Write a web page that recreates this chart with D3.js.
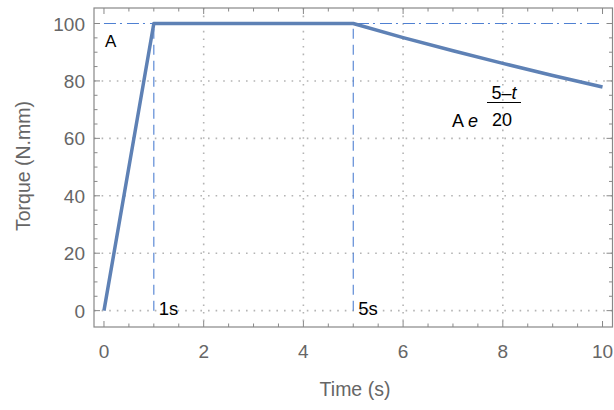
<!DOCTYPE html>
<html><head><meta charset="utf-8">
<script src="https://cdn.jsdelivr.net/npm/d3@7"></script>
<style>
body{margin:0;background:#fff;}
svg{display:block;font-family:"Liberation Sans",Arial,sans-serif;}
</style></head>
<body>
<svg id="c" width="614" height="410"></svg>
<script>
// Data
const timeValues = [0, 1, 5, 6, 7, 8, 9, 10];
const torqueValues = [0, 100, 100, 95.1, 90.5, 86.1, 81.9, 77.9];
const xTicks = [0, 2, 4, 6, 8, 10];
const yTicks = [0, 20, 40, 60, 80, 100];
const markerTimes = [1, 5];
const markerLabels = ["1s", "5s"];
const levelA = 100;

const svg = d3.select("#c");
const L = 94, R = 612.5, T = 8, B = 327;
const x = d3.scaleLinear().domain([-0.2, 10.2]).range([L, R]);
const y = d3.scaleLinear().domain([-5.7, 105.4]).range([B, T]);

const gridColor = "#b4b4b4";
const frameColor = "#888";
const tickText = "#666";

// grid
svg.append("g").selectAll("line").data(yTicks.slice(0, -1)).join("line")
  .attr("x1", L).attr("x2", R).attr("y1", d => y(d)).attr("y2", d => y(d))
  .attr("stroke", gridColor).attr("stroke-width", 1.6).attr("stroke-dasharray", "1.6,6");
svg.append("g").selectAll("line").data(xTicks.slice(1, -1)).join("line")
  .attr("y1", T).attr("y2", B).attr("x1", d => x(d)).attr("x2", d => x(d))
  .attr("stroke", gridColor).attr("stroke-width", 1.6).attr("stroke-dasharray", "1.6,6");

// dashed markers
const dashBlue = "#4f80d2";
svg.append("line").attr("x1", x(0)).attr("x2", x(10)).attr("y1", y(levelA)).attr("y2", y(levelA))
  .attr("stroke", dashBlue).attr("stroke-width", 1.1).attr("stroke-dasharray", "12,4,2,5");
svg.append("g").selectAll("line").data(markerTimes).join("line")
  .attr("x1", d => x(d)).attr("x2", d => x(d)).attr("y1", y(0)).attr("y2", y(levelA))
  .attr("stroke", dashBlue).attr("stroke-width", 1.1).attr("stroke-dasharray", "10,6");

// main curve
const line = d3.line().x((d, i) => x(timeValues[i])).y(d => y(d));
svg.append("path").datum(torqueValues).attr("d", line)
  .attr("fill", "none").attr("stroke", "#5e81b5").attr("stroke-width", 3.5)
  .attr("stroke-linejoin", "round");

// frame
svg.append("rect").attr("x", L).attr("y", T).attr("width", R - L).attr("height", B - T)
  .attr("fill", "none").attr("stroke", frameColor).attr("stroke-width", 1.2);

// axes ticks
const xMinor = d3.range(0, 10.01, 0.5);
const yMinor = d3.range(0, 100.01, 5);
const tk = svg.append("g").attr("stroke", frameColor).attr("stroke-width", 1);
xMinor.forEach(v => {
  const len = (v % 2 === 0) ? 6 : 3.5;
  tk.append("line").attr("x1", x(v)).attr("x2", x(v)).attr("y1", B).attr("y2", B - len);
  tk.append("line").attr("x1", x(v)).attr("x2", x(v)).attr("y1", T).attr("y2", T + len);
});
yMinor.forEach(v => {
  const len = (v % 20 === 0) ? 6 : 3.5;
  tk.append("line").attr("y1", y(v)).attr("y2", y(v)).attr("x1", L).attr("x2", L + len);
  tk.append("line").attr("y1", y(v)).attr("y2", y(v)).attr("x1", R).attr("x2", R - len);
});

// tick labels
svg.append("g").selectAll("text").data(xTicks).join("text")
  .attr("x", d => x(d)).attr("y", 358).attr("text-anchor", "middle")
  .attr("font-size", 19).attr("fill", tickText).text(d => d);
svg.append("g").selectAll("text").data(yTicks).join("text")
  .attr("x", 85).attr("y", d => y(d) + 7).attr("text-anchor", "end")
  .attr("font-size", 19).attr("fill", tickText).text(d => d);

// axis titles
svg.append("text").attr("x", 355).attr("y", 396).attr("text-anchor", "middle")
  .attr("font-size", 19.5).attr("fill", tickText).text("Time (s)");
svg.append("text").attr("transform", "translate(30,166) rotate(-90)").attr("text-anchor", "middle")
  .attr("font-size", 19.5).attr("fill", tickText).text("Torque (N.mm)");

// annotations
svg.append("text").attr("x", 105).attr("y", 47).attr("font-size", 17).attr("fill", "#000").text("A");
svg.append("g").selectAll("text").data(markerTimes).join("text")
  .attr("x", d => x(d) + 5).attr("y", y(0) + 4).attr("font-size", 18.5).attr("fill", "#000")
  .text((d, i) => markerLabels[i]);

const ann = svg.append("g").attr("fill", "#000").attr("font-size", 18);
const t1 = ann.append("text").attr("x", 452).attr("y", 127);
t1.append("tspan").text("A ");
t1.append("tspan").attr("font-style", "italic").text("e");
const num = ann.append("text").attr("x", 504).attr("y", 99).attr("text-anchor", "middle");
num.append("tspan").text("5\u2013");
num.append("tspan").attr("font-style", "italic").text("t");
ann.append("line").attr("x1", 487).attr("x2", 521).attr("y1", 102.5).attr("y2", 102.5)
  .attr("stroke", "#000").attr("stroke-width", 1.2);
ann.append("text").attr("x", 502).attr("y", 126).attr("text-anchor", "middle").text("20");
</script>
</body></html>
